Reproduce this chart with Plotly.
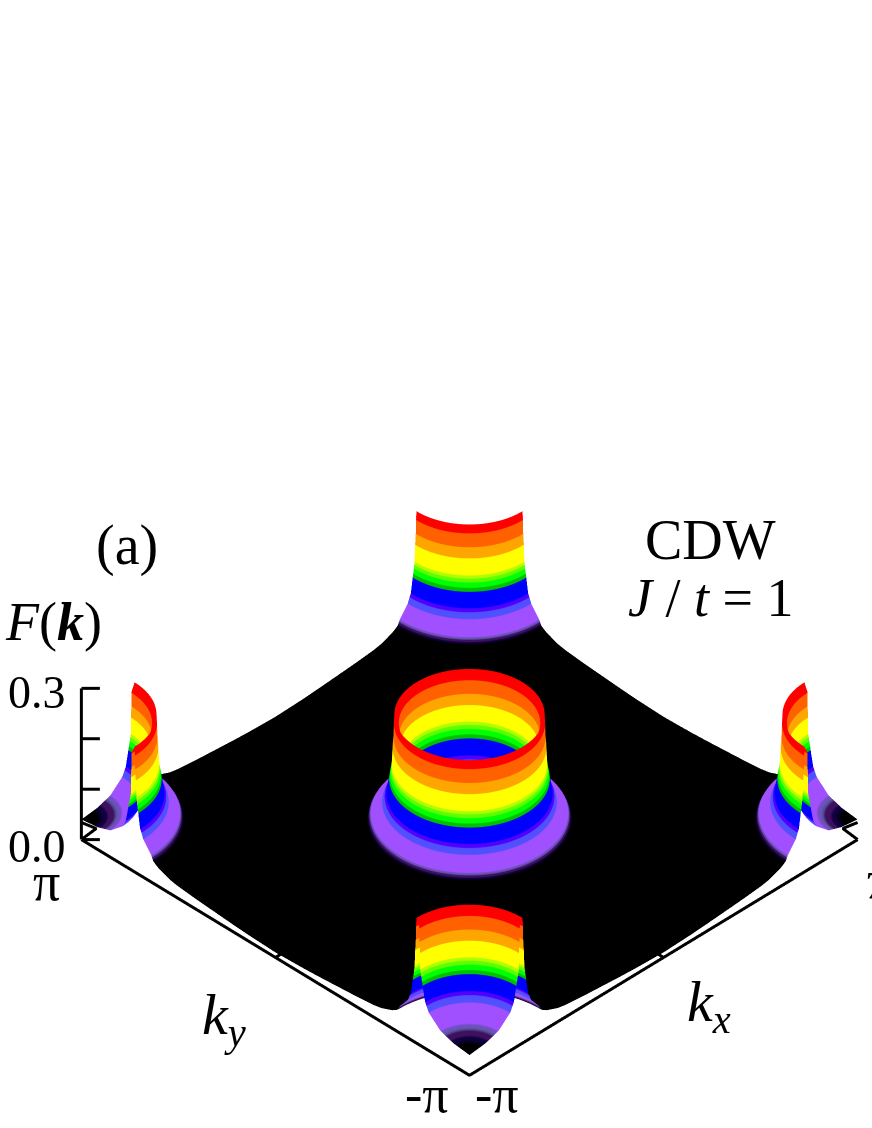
import numpy as np
import plotly.graph_objects as go

# Radial profile of F(k) around each peak
inner_r = [0.00, 0.26, 0.47, 0.66, 0.70, 0.72, 0.76, 0.80, 0.80, 0.81, 0.81]
inner_F = [0.040, 0.044, 0.053, 0.075, 0.086, 0.092, 0.121, 0.151, 0.184, 0.205, 0.232]
ridge_r = [0.86]
ridge_F = [0.248]
outer_r = [0.865, 0.87, 0.88, 0.89, 0.90, 0.92, 0.95, 0.97, 1.00, 1.13, 1.145, 1.16]
outer_F = [0.232, 0.205, 0.184, 0.151, 0.138, 0.121, 0.092, 0.086, 0.075, 0.053, 0.049, 0.044]
skirt_r = [1.20, 1.25, 1.33, 1.43, 1.55, 1.70, 1.85, 2.05, 2.25, 2.45, 2.70, 2.90, 3.14]
skirt_F = [0.040, 0.036, 0.032, 0.027, 0.024, 0.022, 0.020, 0.018, 0.016, 0.014, 0.012, 0.011, 0.010]
floor_F = 0.010

# Colour bands: upper limits of F and their colours
band_limits = [0.044, 0.046, 0.049, 0.051, 0.053, 0.075, 0.086, 0.092, 0.121, 0.128,
               0.138, 0.145, 0.151, 0.184, 0.205, 0.232, 0.30]
band_colors = ["#000000", "#100040", "#401060", "#505090", "#7050c0", "#a050ff", "#5050ff",
               "#5000ff", "#0000ff", "#00c000", "#00ff00", "#60ff00", "#b0ff00", "#ffff00",
               "#ffa500", "#ff6000", "#ff0000"]

pi = np.pi
k_limits = [-pi, pi]
z_ticks = [0.0, 0.1, 0.2, 0.3]

cmax = band_limits[-1]
scale = []
low = 0.0
for lim, col in zip(band_limits, band_colors):
    scale.append([low / cmax, col])
    scale.append([lim / cmax, col])
    low = lim

surf = dict(colorscale=scale, cmin=0, cmax=cmax, showscale=False, hoverinfo="skip",
            lighting=dict(ambient=1, diffuse=0, specular=0, roughness=1, fresnel=0),
            contours=dict(x=dict(highlight=False), y=dict(highlight=False), z=dict(highlight=False)))

r_all = np.array(inner_r + ridge_r + outer_r + skirt_r)
F_all = np.array(inner_F + ridge_F + outer_F + skirt_F)

fig = go.Figure()

# floor, star shaped: complement of the four corner discs
kg = np.linspace(-pi, pi, 241)
X, Y = np.meshgrid(kg, kg)
Z = np.full(X.shape, floor_F)
for cx in k_limits:
    for cy in k_limits:
        Z[np.hypot(X - cx, Y - cy) < pi - 0.06] = np.nan
fig.add_trace(go.Surface(x=X, y=Y, z=Z, **surf))

def peak(cx, cy, t0, t1, rr, ff):
    th = np.linspace(t0, t1, 181)
    R, T = np.meshgrid(rr, th)
    F = np.tile(ff, (len(th), 1))
    fig.add_trace(go.Surface(x=cx + R * np.cos(T), y=cy + R * np.sin(T), z=F, **surf))

# centre ring (cut just past the visible skirt)
peak(0, 0, 0, 2 * pi, r_all[:-8], F_all[:-8])
# corner quarter rings
peak(-pi, -pi, 0, pi / 2, r_all, F_all)
peak(pi, -pi, pi / 2, pi, r_all, F_all)
peak(pi, pi, pi, 3 * pi / 2, r_all, F_all)
peak(-pi, pi, 3 * pi / 2, 2 * pi, r_all, F_all)

# axes
line = dict(color="black", width=6)
def seg(xs, ys, zs):
    fig.add_trace(go.Scatter3d(x=xs, y=ys, z=zs, mode="lines", line=line,
                               hoverinfo="skip", showlegend=False))

seg([-pi, -pi, pi], [pi, -pi, -pi], [0, 0, 0])
seg([-pi, -pi], [pi, pi], [z_ticks[0], z_ticks[-1]])
tick = 0.15
for zt in z_ticks:
    seg([-pi, -pi + tick], [pi, pi - tick], [zt, zt])
seg([-pi, -pi + tick], [0, 0], [0, 0])
seg([0, 0], [-pi, -pi + tick], [0, 0])
seg([-pi, -pi + 0.12, -pi], [pi, pi - 0.12, pi], [0, 0.022, 0.034])
seg([pi, pi - 0.12, pi], [-pi, -pi + 0.12, -pi], [0, 0.022, 0.034])

d = 1.0
el = 1.081
hidden = dict(visible=False, showspikes=False)
fig.update_layout(
    width=872, height=1128, margin=dict(l=0, r=0, t=0, b=0),
    paper_bgcolor="white", showlegend=False,
    scene=dict(
        domain=dict(x=[0.0768, 1.0], y=[0.0, 0.6454]),
        xaxis=dict(range=k_limits, **hidden),
        yaxis=dict(range=k_limits, **hidden),
        zaxis=dict(range=[z_ticks[0], z_ticks[-1]], **hidden),
        aspectmode="manual", aspectratio=dict(x=1.508, y=1.508, z=0.523),
        camera=dict(eye=dict(x=-d, y=-d, z=el * d), up=dict(x=0, y=0, z=1),
                    center=dict(x=0, y=0, z=0), projection=dict(type="orthographic")),
    ),
)

labels = [
    ("(a)", 127, 545, 56), ("CDW", 710, 540, 56), ("<i>J</i> / <i>t</i> = 1", 710, 598, 54),
    ("<i>F</i>(<b><i>k</i></b>)", 53, 622, 54), ("0.3", 37, 692, 46), ("0.0", 37, 846, 46),
    ("π", 46, 882, 54), ("<i>k<sub>y</sub></i>", 224, 1018, 58), ("<i>k<sub>x</sub></i>", 709, 1005, 58),
    ("-π", 427, 1094, 52), ("-π", 497, 1094, 52), ("π", 881, 880, 54),
]
for text, px, py, size in labels:
    fig.add_annotation(text=text, x=px / 872, y=1 - py / 1128, xref="paper", yref="paper",
                       xanchor="center", yanchor="middle", showarrow=False,
                       font=dict(family="Liberation Serif", size=size, color="black"))

fig.write_html("out.html", config=dict(displayModeBar=False),
               post_script="document.body.style.margin='0';document.body.style.overflow='hidden';")
